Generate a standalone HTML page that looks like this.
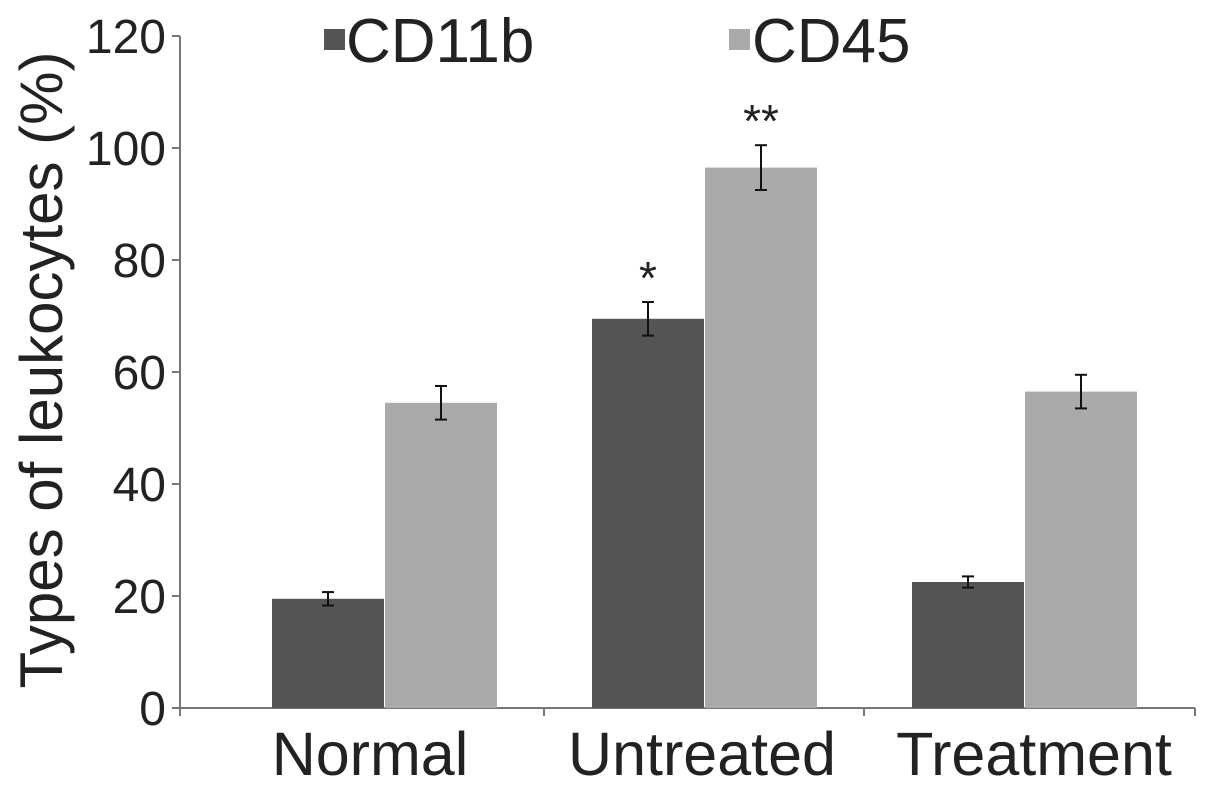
<!DOCTYPE html>
<html><head><meta charset="utf-8"><style>
html,body{margin:0;padding:0;background:#fff;}
svg{display:block;font-family:"Liberation Sans",Arial,sans-serif;}
</style></head><body>
<svg id="chart" width="1205" height="788">
<g id="axes"></g>
<g id="bars"></g>
<g id="legend">
<rect x="324" y="29" width="21" height="21" fill="#555"/>
<text x="346" y="62" font-size="62" fill="#222">CD11b</text>
<rect x="729" y="29" width="21" height="21" fill="#aaa"/>
<text x="752" y="62" font-size="62" fill="#222">CD45</text>
</g>
<text transform="translate(62,370) rotate(-90)" text-anchor="middle" font-size="60" fill="#222">Types of leukocytes (%)</text>
</svg>
<script>
const categories = ["Normal","Untreated","Treatment"];
const cd11b = [19.5, 69.5, 22.5];
const cd11bErr = [1.2, 3, 1];
const cd45 = [54.5, 96.5, 56.5];
const cd45Err = [3, 4, 3];
const yTicks = [0,20,40,60,80,100,120];
const marks = ["", "*", ""];
const marks45 = ["", "**", ""];

const NS="http://www.w3.org/2000/svg";
const x0=180, x1=1195, yBase=708, yTop=36, yMax=120;
const y = v => yBase - v/yMax*(yBase-yTop);
const center = i => 384 + i*320;
const bw = 112;
function mk(tag, attrs, parent){const e=document.createElementNS(NS,tag);for(const k in attrs)e.setAttribute(k,attrs[k]);parent.appendChild(e);return e;}
const axes=document.getElementById('axes'), bars=document.getElementById('bars');
let l=mk('line',{x1:x0,y1:yTop,x2:x0,y2:yBase,stroke:'#777','stroke-width':2},axes);


l=mk('line',{x1:x0,y1:yBase,x2:x1,y2:yBase,stroke:'#777','stroke-width':2},axes);


yTicks.forEach(t=>{
  const tk=mk('line',{x1:x0-8,y1:y(t),x2:x0,y2:y(t),stroke:'#777','stroke-width':2},axes);
  
  
  const tx=mk('text',{x:x0-14,y:y(t)+17,'text-anchor':'end','font-size':48,fill:'#222'},axes);
  tx.textContent=t;
  
  
});
for(let i=0;i<=categories.length;i++){
  const xx = i===0?x0:(i===categories.length?x1:center(i)-160);
  const tk=mk('line',{x1:xx,y1:yBase,x2:xx,y2:yBase+8,stroke:'#777','stroke-width':2},axes);
  
  
}
function err(cx,v,e,g){
  const a={stroke:'#111','stroke-width':2};
  let p=mk('line',Object.assign({x1:cx,y1:y(v+e),x2:cx,y2:y(v-e)},a),g);
  
  
  [v+e,v-e].forEach(w=>{const c=mk('line',Object.assign({x1:cx-6,y1:y(w),x2:cx+6,y2:y(w)},a),g);
    
    });
}
categories.forEach((c,i)=>{
  const cx=center(i);
  let r=mk('rect',{x:cx-bw,y:y(cd11b[i]),width:bw,height:yBase-y(cd11b[i]),fill:'#555'},bars);
  
  
  r=mk('rect',{x:cx+1,y:y(cd45[i]),width:bw,height:yBase-y(cd45[i]),fill:'#aaa'},bars);
  
  
  err(cx-bw/2,cd11b[i],cd11bErr[i],bars);
  err(cx+1+bw/2,cd45[i],cd45Err[i],bars);
  if(marks[i]){const t=mk('text',{x:cx-bw/2,y:y(cd11b[i]+cd11bErr[i])-8,'text-anchor':'middle','font-size':46,fill:'#222'},bars);
    t.textContent=marks[i];
    
    }
  if(marks45[i]){const t=mk('text',{x:cx+1+bw/2,y:y(cd45[i]+cd45Err[i])-8,'text-anchor':'middle','font-size':46,fill:'#222'},bars);
    t.textContent=marks45[i];
    
    }
  const lb=mk('text',{x:cx-14+i*12,y:775,'text-anchor':'middle','font-size':61,fill:'#222'},axes);
  lb.textContent=c;
  
  
});
</script>
</body></html>
